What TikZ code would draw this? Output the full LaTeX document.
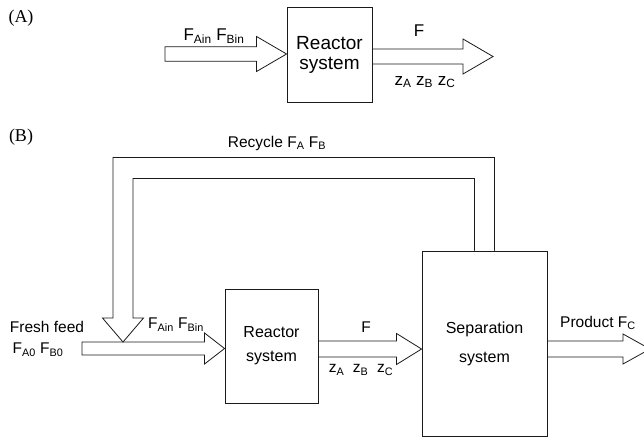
\documentclass[tikz,border=0pt]{standalone}
\usepackage{fontspec}
\setmainfont{Liberation Sans}
\newfontfamily\tagfont{Liberation Serif}
\usepackage{xcolor}
\usetikzlibrary{calc}
\definecolor{ink}{HTML}{1A1A1A}

% hollow block arrow: from, to, shaft half width, head half width, head length
\newcommand\flowarrow[5]{%
  \coordinate (fa-h) at ($(#2)!#5!(#1)$);
  \draw[flow] ($(#1)!#3!90:(#2)$) -- ($(fa-h)!#3!90:(#2)$) -- ($(fa-h)!#4!90:(#2)$)
    -- (#2) -- ($(fa-h)!#4!-90:(#2)$) -- ($(fa-h)!#3!-90:(#2)$) -- ($(#1)!#3!-90:(#2)$) -- cycle;}

\tikzset{
  flow/.style={draw=ink,line width=0.8pt,line join=miter},
  unit/.style={draw=ink,line width=0.9pt,align=center,inner sep=0pt},
  tag/.style={font=\tagfont\fontsize{18}{20}\selectfont},
  lblA/.style={font=\fontsize{17}{20}\selectfont,inner sep=0pt},
  lblB/.style={font=\fontsize{15.5}{18}\selectfont,inner sep=0pt}
}

\begin{document}
\begin{tikzpicture}[x=1pt,y=-1pt,line cap=round]
  \useasboundingbox (0,0) rectangle (644,439);
  \clip (0,0) rectangle (644,439);

  % (A) single reactor
  \node[tag] (tagA) at (21,18) {(A)};
  \node[unit,minimum width=85pt,minimum height=95pt,font=\fontsize{19}{20}\selectfont] (reactA) at (329.5,54.5) {Reactor\\system};
  \coordinate (inA) at (165,54);
  \coordinate (inA-end) at (inA -| reactA.west);
  \coordinate (outA-end) at (493,56.5);
  \coordinate (outA) at (outA-end -| reactA.east);
  \flowarrow{inA}{inA-end}{7.2pt}{17.5pt}{30pt}
  \flowarrow{outA}{outA-end}{7.5pt}{17.5pt}{30pt}
  \node[lblA] (finA) at (214,36) {F\textsubscript{Ain} F\textsubscript{Bin}};
  \node[lblA] (fA) at (419,31) {F};
  \node[lblA] (zA) at (425,82) {z\textsubscript{A} z\textsubscript{B} z\textsubscript{C}};

  % (B) reactor with separation and recycle
  \node[tag] (tagB) at (21,137) {(B)};
  \node[unit,minimum width=93pt,minimum height=114pt,font=\fontsize{16}{24}\selectfont] (reactB) at (271.5,346) {Reactor\\system};
  \node[unit,minimum width=125pt,minimum height=185pt,font=\fontsize{16}{29}\selectfont] (sep) at (484.5,343.5) {Separation\\system};

  \coordinate (feed) at (82,348.5);
  \coordinate (feed-end) at (feed -| reactB.west);
  \flowarrow{feed}{feed-end}{6.5pt}{15.5pt}{20pt}
  \coordinate (fB-end) at ($(sep.west)+(0,5.5)$);
  \coordinate (fB) at (fB-end -| reactB.east);
  \flowarrow{fB}{fB-end}{8pt}{15.5pt}{25pt}
  \coordinate (prod-end) at (650,349);
  \coordinate (prod) at (prod-end -| sep.east);
  \flowarrow{prod}{prod-end}{8pt}{15pt}{27pt}

  % recycle pipe back to the feed
  \coordinate (mix) at ($(feed)+(41,-6.5)$);
  \path (sep.north) ++(0,-82.5) coordinate (bendR);
  \coordinate (bendL) at (mix |- bendR);
  \draw[flow] ($(sep.north)+(10,0)$) |- ($(bendL)+(-10,-10.5)$) |- ($(mix)+(-20.5,-24)$)
    -- (mix) -- ($(mix)+(20.5,-24)$) -| ($(bendL)+(10,10.5)$) -| ($(sep.north)+(-10,0)$);

  \node[lblB] (recycle) at (277,143) {Recycle F\textsubscript{A} F\textsubscript{B}};
  \node[lblB] (fresh) at (47,327) {Fresh feed};
  \node[lblB] (fzero) at (38,350) {F\textsubscript{A0} F\textsubscript{B0}};
  \node[lblB] (finB) at (176,325) {F\textsubscript{Ain} F\textsubscript{Bin}};
  \node[lblB] (fB-lbl) at (366,327) {F};
  \node[lblB] (zB) at (361,370) {z\textsubscript{A}~~z\textsubscript{B}~~z\textsubscript{C}};
  \node[lblB] (product) at (598,323) {Product F\textsubscript{C}};
\end{tikzpicture}
\end{document}
